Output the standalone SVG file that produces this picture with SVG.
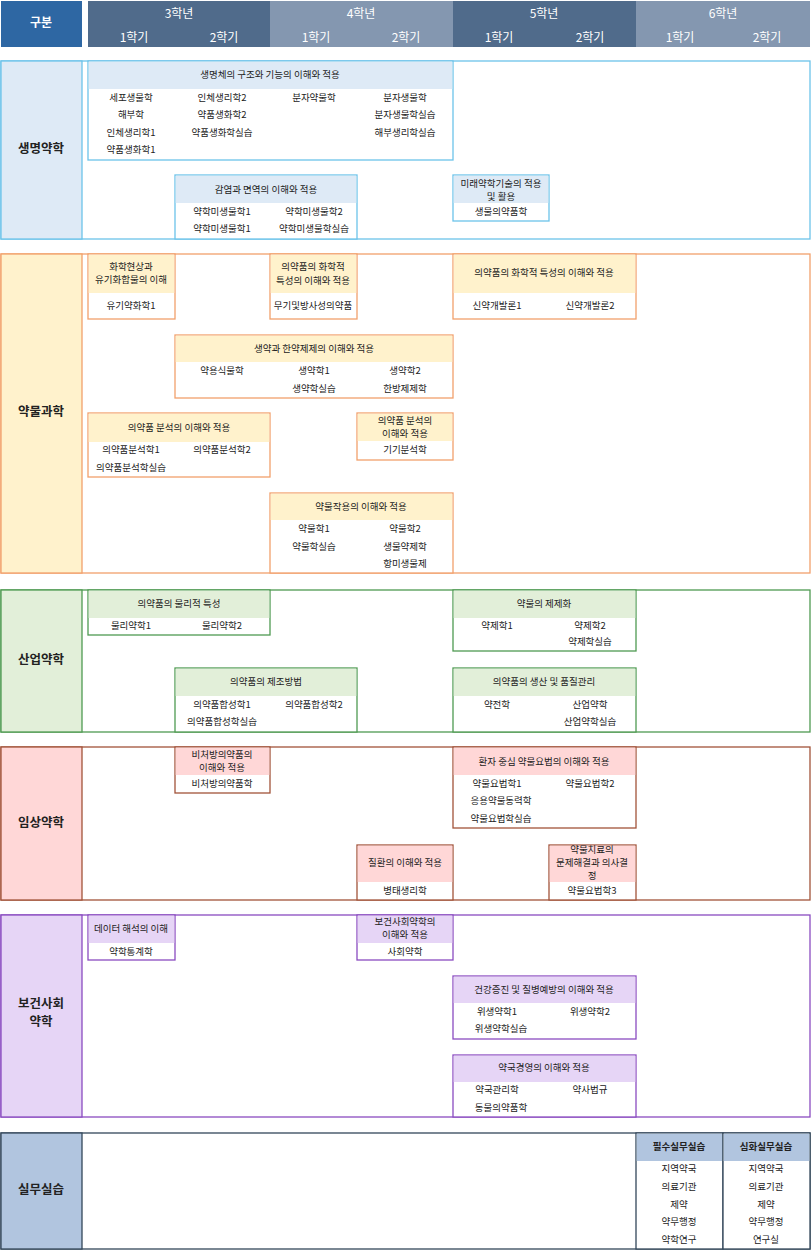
<svg xmlns="http://www.w3.org/2000/svg" width="811" height="1253" viewBox="0 0 811 1253">
<style>
text{font-family:"Noto Sans CJK KR","Noto Sans",sans-serif;font-size:9.5px;fill:#222;text-anchor:middle;dominant-baseline:middle}
.h{fill:#fff;font-size:12px}
.cat{font-size:12.5px;font-weight:bold}
.s1{stroke:#6cc3ea}.s2{stroke:#f2a06c}.s3{stroke:#4f9a52}.s4{stroke:#a2533a}.s5{stroke:#8a4cc0}.s6{stroke:#33475a}
.f1{fill:#deeaf6}.f2{fill:#fff2cc}.f3{fill:#e2efd9}.f4{fill:#ffd7d7}.f5{fill:#e6d5f6}.f6{fill:#b1c5df}
.box{fill:#fff;stroke-width:1.3}
</style>
<rect width="811" height="1253" fill="#fff"/>
<g id="header">
<rect x="1" y="1" width="81" height="46" fill="#2e67a3"/><text x="41" y="24" class="h" font-weight="bold">구분</text>
<rect x="88" y="1" width="182" height="46" fill="#506b8b"/><rect x="270" y="1" width="183" height="46" fill="#8497b0"/>
<rect x="453" y="1" width="183" height="46" fill="#506b8b"/><rect x="636" y="1" width="174" height="46" fill="#8497b0"/>
<text x="179" y="15" class="h">3학년</text><text x="361" y="15" class="h">4학년</text><text x="544" y="15" class="h">5학년</text><text x="723" y="15" class="h">6학년</text>
<text x="134" y="39" class="h">1학기</text><text x="224" y="39" class="h">2학기</text><text x="316" y="39" class="h">1학기</text><text x="406" y="39" class="h">2학기</text>
<text x="499" y="39" class="h">1학기</text><text x="590" y="39" class="h">2학기</text><text x="680" y="39" class="h">1학기</text><text x="767" y="39" class="h">2학기</text>
</g>
<g id="sec1">
<rect x="1" y="61" width="809" height="178" class="box s1"/><rect x="1" y="61" width="81" height="178" class="f1 s1" stroke-width="1.3"/><text x="41" y="150" class="cat">생명약학</text>
<g id="n1a"><rect x="88" y="61" width="365" height="99" class="box s1"/><rect x="88.7" y="61.7" width="363.6" height="27.3" class="f1"/>
<text x="270" y="75">생명체의 구조와 기능의 이해와 적용</text>
<text x="131" y="98">세포생물학</text><text x="222" y="98">인체생리학2</text><text x="314" y="98">분자약물학</text><text x="405" y="98">분자생물학</text>
<text x="131" y="115">해부학</text><text x="222" y="115">약품생화학2</text><text x="405" y="115">분자생물학실습</text>
<text x="131" y="133">인체생리학1</text><text x="222" y="133">약품생화학실습</text><text x="405" y="133">해부생리학실습</text>
<text x="131" y="150">약품생화학1</text></g>
<g id="n1b"><rect x="175" y="175" width="182" height="64" class="box s1"/><rect x="175.7" y="175.7" width="180.6" height="27.3" class="f1"/>
<text x="266" y="190">감염과 면역의 이해와 적용</text><text x="222" y="212">약학미생물학1</text><text x="314" y="212">약학미생물학2</text><text x="222" y="229">약학미생물학1</text><text x="314" y="229">약학미생물학실습</text></g>
<g id="n1c"><rect x="453" y="175" width="96" height="46" class="box s1"/><rect x="453.7" y="175.7" width="94.6" height="27.3" class="f1"/>
<text x="501" y="184">미래약학기술의 적용</text><text x="501" y="197">및 활용</text><text x="501" y="212">생물의약품학</text></g>
</g>
<g id="sec2">
<rect x="1" y="254" width="809" height="319" class="box s2"/><rect x="1" y="254" width="81" height="319" class="f2 s2" stroke-width="1.3"/><text x="41" y="413" class="cat">약물과학</text>
<g id="n2a"><rect x="88" y="254" width="87" height="65" class="box s2"/><rect x="88.7" y="254.7" width="85.6" height="38.3" class="f2"/>
<text x="131" y="267">화학현상과</text><text x="131" y="280">유기화합물의 이해</text><text x="131" y="306">유기약화학1</text></g>
<g id="n2b"><rect x="270" y="254" width="87" height="65" class="box s2"/><rect x="270.7" y="254.7" width="85.6" height="38.3" class="f2"/>
<text x="313" y="267">의약품의 화학적</text><text x="313" y="281">특성의 이해와 적용</text><text x="313" y="306">무기및방사성의약품</text></g>
<g id="n2c"><rect x="453" y="254" width="183" height="65" class="box s2"/><rect x="453.7" y="254.7" width="181.6" height="38.3" class="f2"/>
<text x="544" y="273">의약품의 화학적 특성의 이해와 적용</text><text x="497" y="306">신약개발론1</text><text x="590" y="306">신약개발론2</text></g>
<g id="n2d"><rect x="175" y="335" width="278" height="63" class="box s2"/><rect x="175.7" y="335.7" width="276.6" height="26.3" class="f2"/>
<text x="314" y="349">생약과 한약제제의 이해와 적용</text><text x="222" y="371">약용식물학</text><text x="314" y="371">생약학1</text><text x="405" y="371">생약학2</text>
<text x="314" y="389">생약학실습</text><text x="405" y="389">한방제제학</text></g>
<g id="n2e"><rect x="88" y="413" width="182" height="64" class="box s2"/><rect x="88.7" y="413.7" width="180.6" height="28.3" class="f2"/>
<text x="179" y="428">의약품 분석의 이해와 적용</text><text x="131" y="450">의약품분석학1</text><text x="222" y="450">의약품분석학2</text><text x="131" y="468">의약품분석학실습</text></g>
<g id="n2f"><rect x="357" y="413" width="96" height="47" class="box s2"/><rect x="357.7" y="413.7" width="94.6" height="27.3" class="f2"/>
<text x="405" y="421">의약품 분석의</text><text x="405" y="434">이해와 적용</text><text x="405" y="450">기기분석학</text></g>
<g id="n2g"><rect x="270" y="493" width="183" height="80" class="box s2"/><rect x="270.7" y="493.7" width="181.6" height="26.3" class="f2"/>
<text x="361" y="507">약물작용의 이해와 적용</text><text x="314" y="529">약물학1</text><text x="405" y="529">약물학2</text>
<text x="314" y="547">약물학실습</text><text x="405" y="547">생물약제학</text><text x="405" y="564">항미생물제</text></g>
</g>
<g id="sec3">
<rect x="1" y="590" width="809" height="142" class="box s3"/><rect x="1" y="590" width="81" height="142" class="f3 s3" stroke-width="1.3"/><text x="41" y="661" class="cat">산업약학</text>
<g id="n3a"><rect x="88" y="590" width="182" height="45" class="box s3"/><rect x="88.7" y="590.7" width="180.6" height="27.3" class="f3"/>
<text x="179" y="604">의약품의 물리적 특성</text><text x="131" y="626">물리약학1</text><text x="222" y="626">물리약학2</text></g>
<g id="n3b"><rect x="453" y="590" width="183" height="61" class="box s3"/><rect x="453.7" y="590.7" width="181.6" height="27.3" class="f3"/>
<text x="544" y="604">약물의 제제화</text><text x="497" y="626">약제학1</text><text x="590" y="626">약제학2</text><text x="590" y="642">약제학실습</text></g>
<g id="n3c"><rect x="175" y="668" width="182" height="64" class="box s3"/><rect x="175.7" y="668.7" width="180.6" height="27.3" class="f3"/>
<text x="266" y="682">의약품의 제조방법</text><text x="222" y="705">의약품합성학1</text><text x="314" y="705">의약품합성학2</text><text x="222" y="722">의약품합성학실습</text></g>
<g id="n3d"><rect x="453" y="668" width="183" height="64" class="box s3"/><rect x="453.7" y="668.7" width="181.6" height="27.3" class="f3"/>
<text x="544" y="682">의약품의 생산 및 품질관리</text><text x="497" y="705">약전학</text><text x="590" y="705">산업약학</text><text x="590" y="722">산업약학실습</text></g>
</g>
<g id="sec4">
<rect x="1" y="747" width="809" height="153" class="box s4"/><rect x="1" y="747" width="81" height="153" class="f4 s4" stroke-width="1.3"/><text x="41" y="824" class="cat">임상약학</text>
<g id="n4a"><rect x="175" y="747" width="95" height="46" class="box s4"/><rect x="175.7" y="747.7" width="93.6" height="27.3" class="f4"/>
<text x="222" y="755">비처방의약품의</text><text x="222" y="768">이해와 적용</text><text x="222" y="784">비처방의약품학</text></g>
<g id="n4b"><rect x="453" y="747" width="183" height="81" class="box s4"/><rect x="453.7" y="747.7" width="181.6" height="27.3" class="f4"/>
<text x="544" y="762">환자 중심 약물요법의 이해와 적용</text><text x="497" y="784">약물요법학1</text><text x="590" y="784">약물요법학2</text>
<text x="501" y="801">응용약물동력학</text><text x="501" y="819">약물요법학실습</text></g>
<g id="n4c"><rect x="357" y="845" width="96" height="55" class="box s4"/><rect x="357.7" y="845.7" width="94.6" height="36.3" class="f4"/>
<text x="405" y="863">질환의 이해와 적용</text><text x="405" y="891">병태생리학</text></g>
<g id="n4d"><rect x="549" y="845" width="87" height="55" class="box s4"/><rect x="549.7" y="845.7" width="85.6" height="36.3" class="f4"/>
<text x="592" y="850">약물치료의</text><text x="592" y="863">문제해결과 의사결</text><text x="592" y="876">정</text><text x="592" y="891">약물요법학3</text></g>
</g>
<g id="sec5">
<rect x="1" y="915" width="809" height="202" class="box s5"/><rect x="1" y="915" width="81" height="202" class="f5 s5" stroke-width="1.3"/><text x="41" y="1005" class="cat">보건사회</text><text x="41" y="1023" class="cat">약학</text>
<g id="n5a"><rect x="88" y="915" width="87" height="45" class="box s5"/><rect x="88.7" y="915.7" width="85.6" height="27.3" class="f5"/>
<text x="131" y="929">데이터 해석의 이해</text><text x="131" y="952">약학통계학</text></g>
<g id="n5b"><rect x="357" y="915" width="96" height="45" class="box s5"/><rect x="357.7" y="915.7" width="94.6" height="27.3" class="f5"/>
<text x="405" y="922">보건사회약학의</text><text x="405" y="935">이해와 적용</text><text x="405" y="952">사회약학</text></g>
<g id="n5c"><rect x="453" y="976" width="183" height="63" class="box s5"/><rect x="453.7" y="976.7" width="181.6" height="26.3" class="f5"/>
<text x="544" y="990">건강증진 및 질병예방의 이해와 적용</text><text x="497" y="1012">위생약학1</text><text x="590" y="1012">위생약학2</text><text x="501" y="1029">위생약학실습</text></g>
<g id="n5d"><rect x="453" y="1055" width="183" height="62" class="box s5"/><rect x="453.7" y="1055.7" width="181.6" height="26.3" class="f5"/>
<text x="544" y="1068">약국경영의 이해와 적용</text><text x="497" y="1090">약국관리학</text><text x="590" y="1090">약사법규</text><text x="501" y="1108">동물의약품학</text></g>
</g>
<g id="sec6">
<rect x="1" y="1133" width="809" height="116" class="box s6"/><rect x="1" y="1133" width="81" height="116" class="f6 s6" stroke-width="1.3"/><text x="41" y="1191" class="cat">실무실습</text>
<g id="n6a"><rect x="636" y="1133" width="87" height="116" class="box s6"/><rect x="636.7" y="1133.7" width="85.6" height="27.3" class="f6"/>
<text x="679" y="1147" font-weight="bold">필수실무실습</text><text x="679" y="1169">지역약국</text><text x="679" y="1187">의료기관</text><text x="679" y="1205">제약</text><text x="679" y="1222">약무행정</text><text x="679" y="1240">약학연구</text></g>
<g id="n6b"><rect x="723" y="1133" width="87" height="116" class="box s6"/><rect x="723.7" y="1133.7" width="85.6" height="27.3" class="f6"/>
<text x="766" y="1147" font-weight="bold">심화실무실습</text><text x="766" y="1169">지역약국</text><text x="766" y="1187">의료기관</text><text x="766" y="1205">제약</text><text x="766" y="1222">약무행정</text><text x="766" y="1240">연구실</text></g>
</g>
<g id="connectors"></g>
</svg>
